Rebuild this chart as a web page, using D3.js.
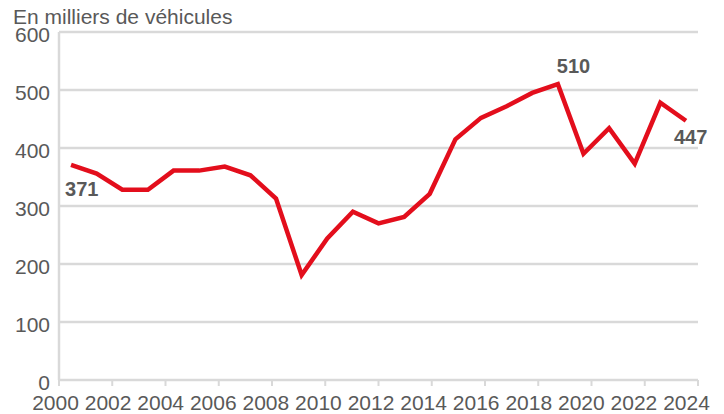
<!DOCTYPE html>
<html>
<head>
<meta charset="utf-8">
<script src="https://cdn.jsdelivr.net/npm/d3@7"></script>
<style>
  html, body { margin: 0; padding: 0; background: #fff; }
  svg { display: block; font-family: "Liberation Sans", Arial, sans-serif; }
</style>
</head>
<body>
<svg id="chart" width="724" height="414"></svg>
<script>
// ---- data ----
const years = [2000, 2001, 2002, 2003, 2004, 2005, 2006, 2007, 2008, 2009, 2010, 2011, 2012,
               2013, 2014, 2015, 2016, 2017, 2018, 2019, 2020, 2021, 2022, 2023, 2024];
const values = [371, 356, 328, 328, 361, 361, 368, 353, 313, 181, 244, 290, 270,
                281, 321, 415, 452, 472, 495, 510, 390, 434, 373, 478, 447];
const xTickYears = [2000, 2002, 2004, 2006, 2008, 2010, 2012, 2014, 2016, 2018, 2020, 2022, 2024];
const yTicks = [0, 100, 200, 300, 400, 500, 600];
const labelledYears = [2000, 2019, 2024];
const unitTitle = "En milliers de véhicules";

(function () {
// ---- layout ----
const svg = d3.select("#chart");
const mLeft = 59, mRight = 698, mTop = 32, mBottom = 380;
const gridColor = "#d9d9d9", textColor = "#595959", lineColor = "#e30e1c";

const y = d3.scaleLinear().domain([0, 600]).range([mBottom, mTop]);
const xAxisScale = d3.scaleLinear().domain([2000, 2024]).range([mLeft, mRight]);
const xLabelScale = d3.scaleLinear().domain([2000, 2024]).range([55.5, 686.5]);
const x = d3.scalePoint().domain(years).range([mLeft, mRight]).padding(0.47);

// gridlines
svg.append("g").selectAll("line").data(yTicks.filter(d => d > 0)).join("line")
  .attr("x1", mLeft).attr("x2", mRight)
  .attr("y1", d => y(d)).attr("y2", d => y(d))
  .attr("stroke", gridColor).attr("stroke-width", 2.5);

// y axis line
svg.append("line").attr("x1", mLeft).attr("x2", mLeft).attr("y1", mTop).attr("y2", mBottom)
  .attr("stroke", gridColor).attr("stroke-width", 2.5);
// x axis line
svg.append("line").attr("x1", mLeft).attr("x2", mRight).attr("y1", mBottom).attr("y2", mBottom)
  .attr("stroke", gridColor).attr("stroke-width", 2.5);

// x ticks
svg.append("g").selectAll("line").data(xTickYears).join("line")
  .attr("x1", d => xAxisScale(d)).attr("x2", d => xAxisScale(d))
  .attr("y1", mBottom).attr("y2", mBottom + 6)
  .attr("stroke", gridColor).attr("stroke-width", 2);

// x tick labels
svg.append("g").selectAll("text").data(xTickYears).join("text")
  .attr("x", d => xLabelScale(d)).attr("y", 410)
  .attr("text-anchor", "middle")
  .attr("font-size", 21).attr("fill", textColor)
  .text(d => d);

// y tick labels
svg.append("g").selectAll("text").data(yTicks).join("text")
  .attr("x", 50).attr("y", d => y(d) + 10)
  .attr("text-anchor", "end")
  .attr("font-size", 21).attr("fill", textColor)
  .text(d => d);

// title
svg.append("text").attr("x", 13).attr("y", 24)
  .attr("font-size", 21).attr("fill", textColor).text(unitTitle);

// line
const data = years.map((yr, i) => ({ year: yr, value: values[i] }));
svg.append("path").datum(data)
  .attr("fill", "none").attr("stroke", lineColor).attr("stroke-width", 4.5)
  .attr("stroke-linejoin", "miter").attr("stroke-linecap", "butt")
  .attr("d", d3.line().x(d => x(d.year)).y(d => y(d.value)));

// value labels
const labelOffsets = { 2000: [-6, 31], 2019: [-1, -11], 2024: [-12, 23] };
svg.append("g").selectAll("text").data(data.filter(d => labelledYears.includes(d.year))).join("text")
  .attr("x", d => x(d.year) + labelOffsets[d.year][0])
  .attr("y", d => y(d.value) + labelOffsets[d.year][1])
  .attr("font-size", 20).attr("font-weight", "bold").attr("fill", textColor)
  .text(d => d.value);
})();
</script>
</body>
</html>
